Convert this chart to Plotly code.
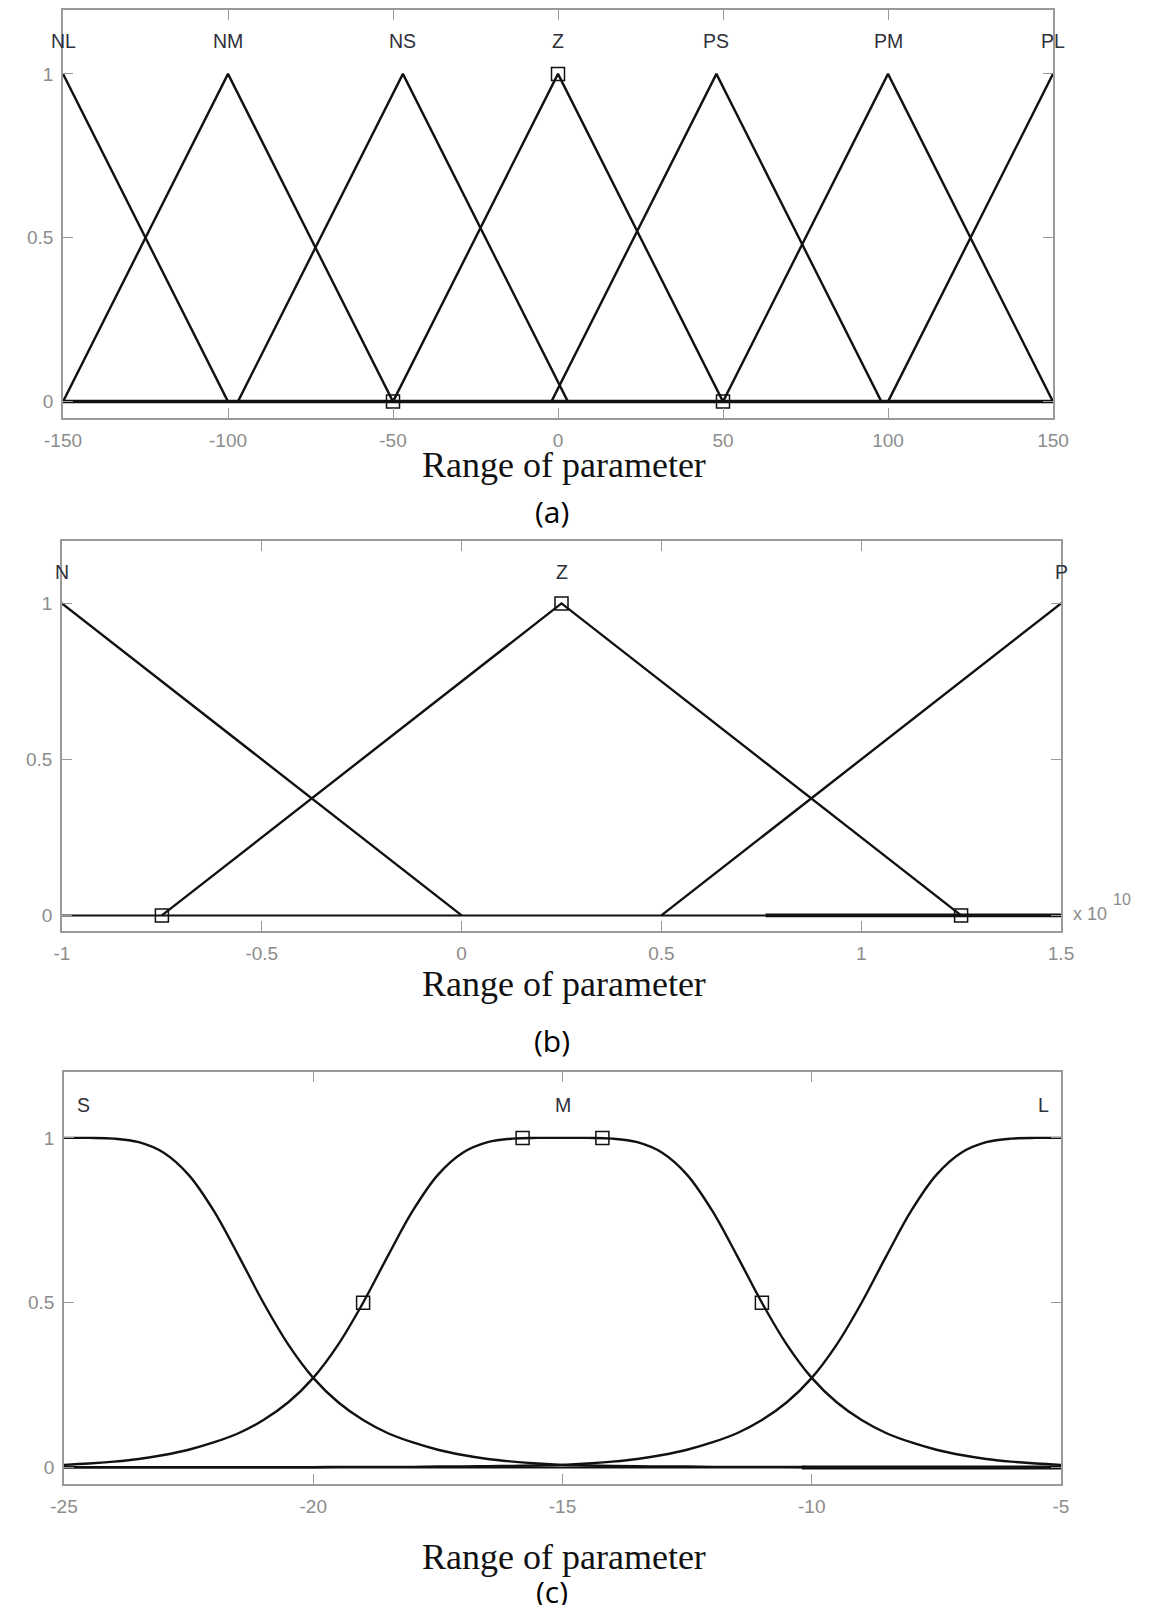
import plotly.graph_objects as go

# ---- panel (a): seven triangular MFs ----
a_labels = ['NL', 'NM', 'NS', 'Z', 'PS', 'PM', 'PL']
a_left = [-200, -150, -97, -50, -2, 50, 100]
a_peak = [-150, -100, -47, 0, 48, 100, 150]
a_right = [-100, -50, 3, 50, 98, 150, 200]
a_sq_x = [-50, 0, 50]
a_sq_y = [0, 1, 0]
a_ticks = [-150, -100, -50, 0, 50, 100, 150]
a_ticktext = ['-150', '-100', '-50', '0', '50', '100', '150']
a_base = [-150, 150]

# ---- panel (b): three triangular MFs (x 10^10) ----
b_labels = ['N', 'Z', 'P']
b_left = [-2, -0.75, 0.5]
b_peak = [-1, 0.25, 1.5]
b_right = [0, 1.25, 2.5]
b_sq_x = [-0.75, 0.25, 1.25]
b_sq_y = [0, 1, 0]
b_ticks = [-1, -0.5, 0, 0.5, 1, 1.5]
b_ticktext = ['-1', '-0.5', '0', '0.5', '1', '1.5']
b_base_thin = [-1, 0.76]
b_base_thick = [0.76, 1.5]

# ---- panel (c): three bell-shaped MFs ----
c_x = [-25, -24.5, -24, -23.5, -23, -22.5, -22, -21.5, -21, -20.5, -20,
       -19.5, -19, -18.5, -18, -17.5, -17, -16.5, -16, -15.5, -15,
       -14.5, -14, -13.5, -13, -12.5, -12, -11.5, -11, -10.5, -10,
       -9.5, -9, -8.5, -8, -7.5, -7, -6.5, -6, -5.5, -5]
c_S = [1.000, 1.000, 0.998, 0.987, 0.955, 0.888, 0.780, 0.643, 0.500, 0.373,
       0.272, 0.198, 0.144, 0.104, 0.076, 0.054, 0.038, 0.026, 0.018, 0.012,
       0.008, 0.006, 0.005, 0.004, 0.003, 0.003, 0.002, 0.002, 0.002, 0.002,
       0.001, 0.001, 0.001, 0.001, 0.001, 0.001, 0.001, 0.001, 0.001, 0.001, 0.001]
c_M = [0.008, 0.012, 0.018, 0.026, 0.038, 0.054, 0.076, 0.104, 0.144, 0.198,
       0.272, 0.373, 0.500, 0.643, 0.780, 0.888, 0.955, 0.987, 0.998, 1.000,
       1.000, 1.000, 0.998, 0.987, 0.955, 0.888, 0.780, 0.643, 0.500, 0.373,
       0.272, 0.198, 0.144, 0.104, 0.076, 0.054, 0.038, 0.026, 0.018, 0.012, 0.008]
c_L = [0.001, 0.001, 0.001, 0.001, 0.001, 0.001, 0.001, 0.001, 0.001, 0.001,
       0.001, 0.002, 0.002, 0.002, 0.002, 0.003, 0.003, 0.004, 0.005, 0.006,
       0.008, 0.012, 0.018, 0.026, 0.038, 0.054, 0.076, 0.104, 0.144, 0.198,
       0.272, 0.373, 0.500, 0.643, 0.780, 0.888, 0.955, 0.987, 0.998, 1.000, 1.000]
c_labels = ['S', 'M', 'L']
c_label_x = [-24.6, -15, -5.35]
c_sq_x = [-19, -15.8, -14.2, -11]
c_sq_y = [0.5, 1, 1, 0.5]
c_ticks = [-25, -20, -15, -10, -5]
c_ticktext = ['-25', '-20', '-15', '-10', '-5']
c_base_thin = [-25, -10.2]
c_base_thick = [-10.2, -5]

y_ticks = [0, 0.5, 1]
y_ticktext = ['0', '0.5', '1']

# page has an 8px body margin, so the figure starts at (8, 8)
OFF = 8
W, H = 1151 - OFF, 1605 - OFF
BLACK = '#111111'
GRAY = '#9a9a9a'
TICKFONT = dict(family='Liberation Sans, Arial', size=19, color='#8c8c8c')
LABELFONT = dict(family='Liberation Sans, Arial', size=19.5, color='#30303a')


def fx(px):
    return (px - OFF) / W


def fy(py):
    return 1 - (py - OFF) / H


fig = go.Figure()


def line(xs, ys, ax, width=2.4, shape='linear'):
    fig.add_trace(go.Scatter(x=xs, y=ys, mode='lines', xaxis='x' + ax, yaxis='y' + ax,
                             line=dict(color=BLACK, width=width, shape=shape),
                             showlegend=False, hoverinfo='skip'))


def squares(xs, ys, ax):
    fig.add_trace(go.Scatter(x=xs, y=ys, mode='markers', xaxis='x' + ax, yaxis='y' + ax,
                             marker=dict(symbol='square-open', size=13,
                                         color=BLACK, line=dict(width=1.5)),
                             showlegend=False, hoverinfo='skip'))


# (a)
line(a_base, [0, 0], '', width=3.5)
for l, p, r in zip(a_left, a_peak, a_right):
    line([l, p, r], [0, 1, 0], '')
squares(a_sq_x, a_sq_y, '')

# (b)
line(b_base_thin, [0, 0], '2', width=2)
line(b_base_thick, [0, 0], '2', width=3.8)
for l, p, r in zip(b_left, b_peak, b_right):
    line([l, p, r], [0, 1, 0], '2')
squares(b_sq_x, b_sq_y, '2')

# (c)
line(c_base_thin, [0, 0], '3', width=2)
line(c_base_thick, [0, 0], '3', width=3.8)
for ys in (c_S, c_M, c_L):
    line(c_x, ys, '3', shape='spline')
squares(c_sq_x, c_sq_y, '3')


def axis_style():
    return dict(showline=True, linecolor=GRAY, linewidth=1.5, mirror='allticks',
                ticks='inside', ticklen=10, tickcolor=GRAY, tickwidth=1.2,
                showgrid=False, zeroline=False, tickfont=TICKFONT,
                ticklabelstandoff=4, fixedrange=True)


def xaxis(rng, ticks, text, x0, x1, anchor):
    return dict(range=rng, domain=[fx(x0), fx(x1)], anchor=anchor,
                tickvals=ticks, ticktext=text, **axis_style())


def yaxis(y0, y1, anchor, top=1.2):
    return dict(range=[-0.05, top], domain=[fy(y1), fy(y0)], anchor=anchor,
                tickvals=y_ticks, ticktext=y_ticktext, **axis_style())


annotations = []
for lab, x in zip(a_labels, a_peak):
    annotations.append(dict(text=lab, x=x, y=1.1, xref='x', yref='y',
                            showarrow=False, font=LABELFONT))
for lab, x in zip(b_labels, b_peak):
    annotations.append(dict(text=lab, x=x, y=1.1, xref='x2', yref='y2',
                            showarrow=False, font=LABELFONT))
for lab, x in zip(c_labels, c_label_x):
    annotations.append(dict(text=lab, x=x, y=1.1, xref='x3', yref='y3',
                            showarrow=False, font=LABELFONT))

# exponent note of panel (b)
annotations.append(dict(text='x 10', x=fx(1071), y=0, xref='paper', yref='y2',
                        xanchor='left', yanchor='middle', showarrow=False, yshift=1,
                        font=dict(family='Liberation Sans, Arial', size=18, color='#8c8c8c')))
annotations.append(dict(text='10', x=fx(1111), y=0, xref='paper', yref='y2',
                        xanchor='left', yanchor='middle', showarrow=False, yshift=16,
                        font=dict(family='Liberation Sans, Arial', size=16, color='#8c8c8c')))

titles = [(465, 511, '(a)'), (984, 1040, '(b)'), (1557, 1591, '(c)')]
for ty, py, tag in titles:
    annotations.append(dict(text='Range of parameter', x=fx(564), y=fy(ty),
                            xref='paper', yref='paper', showarrow=False,
                            xanchor='center', yanchor='middle',
                            font=dict(family='Liberation Serif, Times New Roman',
                                      size=36, color='#111111')))
    annotations.append(dict(text=tag, x=fx(552), y=fy(py),
                            xref='paper', yref='paper', showarrow=False,
                            xanchor='center', yanchor='middle',
                            font=dict(family='Open Sans, Noto Sans', size=30,
                                      color='#000000')))

fig.update_layout(
    width=W, height=H, autosize=False,
    margin=dict(l=0, r=0, t=0, b=0, pad=0, autoexpand=False),
    paper_bgcolor='white', plot_bgcolor='white',
    xaxis=xaxis([-150, 150], a_ticks, a_ticktext, 63, 1053, 'y'),
    yaxis=yaxis(10, 418, 'x', top=1.195),
    xaxis2=xaxis([-1, 1.5], b_ticks, b_ticktext, 62, 1061, 'y2'),
    yaxis2=yaxis(541, 931, 'x2'),
    xaxis3=xaxis([-25, -5], c_ticks, c_ticktext, 64, 1061, 'y3'),
    yaxis3=yaxis(1072, 1484, 'x3'),
    annotations=annotations,
)

fig.write_html("out.html")
